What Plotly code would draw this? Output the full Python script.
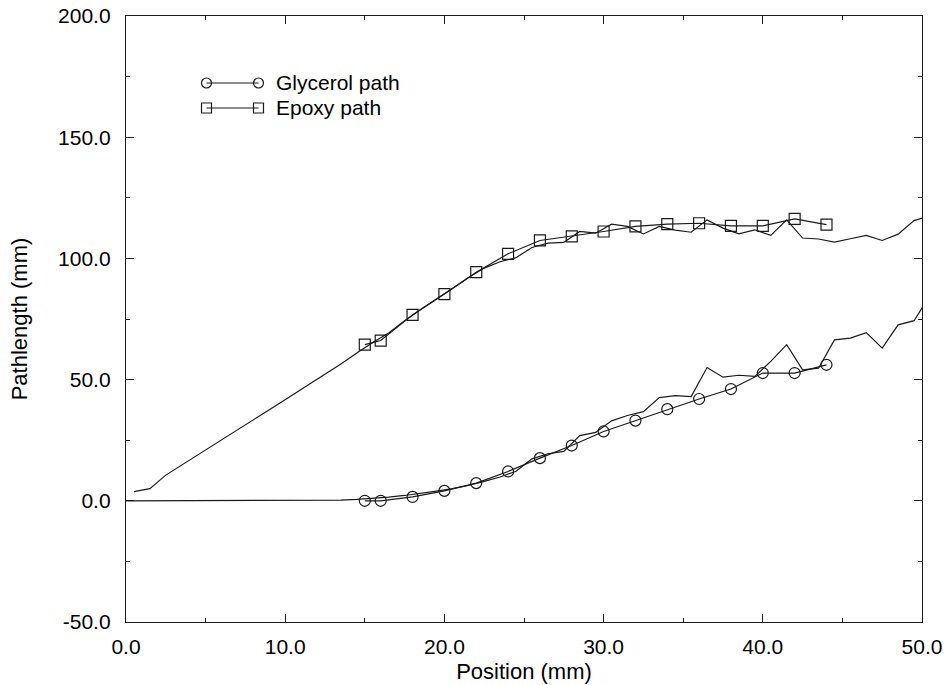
import plotly.graph_objects as go

# ---- data ----
# measured (marker) series
meas_x = [15, 16, 18, 20, 22, 24, 26, 28, 30, 32, 34, 36, 38, 40, 42, 44]
glycerol_meas = [0.0, 0.0, 1.6, 4.1, 7.3, 12.1, 17.6, 22.8, 28.6, 33.1, 37.8, 42.0, 46.1, 52.7, 52.7, 56.1]
epoxy_meas = [64.4, 66.1, 76.7, 85.3, 94.3, 101.9, 107.4, 109.1, 111.1, 113.2, 114.1, 114.5, 113.4, 113.4, 116.3, 113.9]

# continuous (computed) series
epoxy_cont_x = [0.5, 1.5, 2.5, 3.5, 4.5, 5.5, 6.5, 7.5, 8.5, 9.5, 10.5, 11.5, 12.5, 13.5, 14.5,
                15.5, 16.5, 17.5, 18.5, 19.5, 20.5, 21.5, 22.5, 23.5, 24.5, 25.5, 26.5, 27.5, 28.5,
                29.5, 30.5, 31.5, 32.5, 33.5, 34.5, 35.5, 36.5, 37.5, 38.5, 39.5, 40.5, 41.5, 42.5,
                43.5, 44.5, 45.5, 46.5, 47.5, 48.5, 49.5, 50.5]
epoxy_cont = [3.8, 5.0, 10.6, 14.8, 19.0, 23.2, 27.3, 31.4, 35.5, 39.6, 43.8, 47.9, 52.0, 56.4, 61.0,
              65.3, 69.2, 74.3, 78.9, 83.4, 87.6, 92.0, 96.0, 98.6, 100.3, 104.5, 106.3, 106.6, 111.1,
              110.4, 114.1, 113.2, 110.1, 113.2, 111.7, 110.8, 115.9, 112.5, 110.1, 111.8, 109.5, 115.9, 108.4,
              108.0, 106.7, 108.1, 109.5, 107.4, 110.0, 115.6, 117.6]

glycerol_cont_x = [0.0, 0.5, 1.5, 2.5, 3.5, 4.5, 5.5, 6.5, 7.5, 8.5, 9.5, 10.5, 11.5, 12.5, 13.5, 14.5,
                   15.5, 16.5, 17.5, 18.5, 19.5, 20.5, 21.5, 22.5, 23.5, 24.5, 25.5, 26.5, 27.5, 28.5,
                   29.5, 30.5, 31.5, 32.5, 33.5, 34.5, 35.5, 36.5, 37.5, 38.5, 39.5, 40.5, 41.5, 42.5,
                   43.5, 44.5, 45.5, 46.5, 47.5, 48.5, 49.5, 50.5]
glycerol_cont = [0.0, 0.0, 0.0, 0.0, 0.0, 0.0, 0.0, 0.0, 0.0, 0.0, 0.0, 0.0, 0.0, 0.1, 0.3, 0.6,
                 1.0, 1.5, 2.2, 3.0, 4.0, 5.0, 6.3, 8.0, 9.8, 12.2, 17.3, 19.4, 20.4, 26.9,
                 28.2, 33.0, 35.2, 36.8, 42.6, 43.4, 43.0, 55.0, 51.0, 51.8, 51.3, 57.5, 64.4, 54.0,
                 54.7, 66.4, 67.1, 69.4, 63.0, 72.6, 74.3, 84.7]

x_tick_vals = [0, 10, 20, 30, 40, 50]
x_tick_text = ["0.0", "10.0", "20.0", "30.0", "40.0", "50.0"]
y_tick_vals = [-50, 0, 50, 100, 150, 200]
y_tick_text = ["-50.0", "0.0", "50.0", "100.0", "150.0", "200.0"]

legend_names = ["Glycerol path", "Epoxy path"]

FONT = "Liberation Sans, Arial, Helvetica, sans-serif"
INK = "#1a1a1a"

fig = go.Figure()

fig.add_trace(go.Scatter(x=epoxy_cont_x, y=epoxy_cont, mode="lines",
                         line=dict(color=INK, width=1.2), showlegend=False, cliponaxis=True))
fig.add_trace(go.Scatter(x=glycerol_cont_x, y=glycerol_cont, mode="lines",
                         line=dict(color=INK, width=1.2), showlegend=False, cliponaxis=True))
fig.add_trace(go.Scatter(x=meas_x, y=epoxy_meas, mode="lines+markers",
                         line=dict(color=INK, width=1.2),
                         marker=dict(symbol="square-open", size=11, color=INK, line=dict(width=1.2)),
                         showlegend=False))
fig.add_trace(go.Scatter(x=meas_x, y=glycerol_meas, mode="lines+markers",
                         line=dict(color=INK, width=1.2),
                         marker=dict(symbol="circle-open", size=11, color=INK, line=dict(width=1.2)),
                         showlegend=False))

# ---- hand-drawn legend (paper coordinates) ----
L, R, T, B = 126, 23, 16, 63
W, H = 945 - L - R, 685 - T - B
def px(xp):
    return (xp - L) / W
def py(yp):
    return (685 - B - yp) / H

shapes = []
annotations = []
rows = [(83, "circle"), (108, "square")]
for (yrow, sym), name in zip(rows, legend_names):
    xa, xb, yy = px(206.5), px(258.5), py(yrow)
    shapes.append(dict(type="line", xref="paper", yref="paper", x0=xa, x1=xb, y0=yy, y1=yy,
                       line=dict(color=INK, width=1.2)))
    for xc in (xa, xb):
        shapes.append(dict(type="circle" if sym == "circle" else "rect",
                           xref="paper", yref="paper",
                           xsizemode="pixel", ysizemode="pixel",
                           xanchor=xc, yanchor=yy, x0=-5, x1=5, y0=-5, y1=5,
                           line=dict(color=INK, width=1.2), fillcolor="rgba(0,0,0,0)"))
    annotations.append(dict(text=name, xref="paper", yref="paper", x=px(274), y=yy,
                            xanchor="left", yanchor="middle", showarrow=False,
                            font=dict(family=FONT, size=21, color="black")))

axis_common = dict(showgrid=False, zeroline=False, showline=True, linecolor=INK, linewidth=1.3,
                   mirror="ticks", ticks="inside", ticklen=8, tickwidth=1.2, tickcolor=INK,
                   tickfont=dict(family=FONT, size=21, color="black"))

fig.update_layout(
    width=945, height=685,
    margin=dict(l=L, r=R, t=T, b=B, autoexpand=False),
    paper_bgcolor="white", plot_bgcolor="white",
    shapes=shapes, annotations=annotations,
    xaxis=dict(range=[0, 50], tickvals=x_tick_vals, ticktext=x_tick_text,
               minor=dict(dtick=5, ticks="inside", ticklen=4, tickcolor=INK, tickwidth=1),
               title=dict(text="Position (mm)", font=dict(family=FONT, size=22, color="black"), standoff=6),
               ticklabelstandoff=6, **axis_common),
    yaxis=dict(range=[-50, 200], tickvals=y_tick_vals, ticktext=y_tick_text,
               minor=dict(dtick=25, ticks="inside", ticklen=4, tickcolor=INK, tickwidth=1),
               title=dict(text="Pathlength (mm)", font=dict(family=FONT, size=22, color="black"), standoff=24),
               ticklabelstandoff=10, **axis_common),
    showlegend=False,
)
fig.update_xaxes(automargin=False)
fig.update_yaxes(automargin=False)

fig.write_html("out.html")
